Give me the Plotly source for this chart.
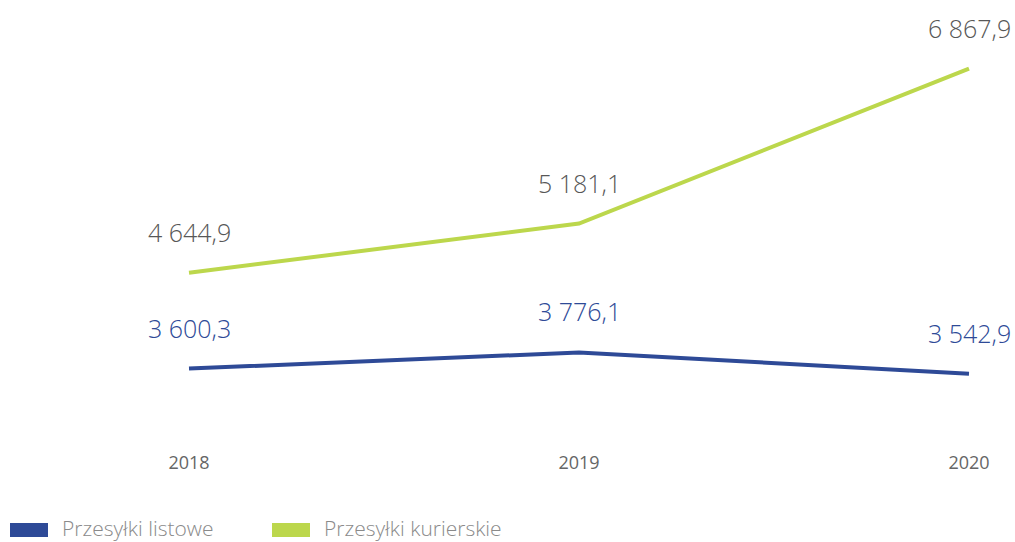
import plotly.graph_objects as go

years = [2018, 2019, 2020]
listowe = [3600.3, 3776.1, 3542.9]
kurierskie = [4644.9, 5181.1, 6867.9]
series_names = ["Przesyłki listowe", "Przesyłki kurierskie"]
colors = ["#2E4A97", "#BCD74C"]
label_colors = ["#2E4A97", "#575757"]

def fmt(v):
    s = f"{v:,.1f}"
    return s.replace(",", " ").replace(".", ",")

W, H = 1015, 542
top, bottom = 20, 430
px_per = 0.09177
zero_px = 699
y_lo = (zero_px - bottom) / px_per
y_hi = (zero_px - top) / px_per
x0 = 2018 - 189 / 390
x1 = x0 + W / 390

fig = go.Figure()
for name, vals, col in zip(series_names, [listowe, kurierskie], colors):
    fig.add_trace(go.Scatter(x=years, y=vals, mode="lines", name=name,
                             line=dict(color=col, width=4), showlegend=False,
                             hoverinfo="skip"))

for vals, lc in zip([listowe, kurierskie], label_colors):
    for x, v in zip(years, vals):
        fig.add_annotation(x=x, y=v, text=fmt(v), showarrow=False, yshift=41,
                           font=dict(size=25, color=lc, family="Open Sans", weight=300))

fig.update_layout(
    width=W, height=H,
    margin=dict(l=0, r=0, t=top, b=H - bottom),
    plot_bgcolor="white", paper_bgcolor="white",
    xaxis=dict(range=[x0, x1], tickvals=years, ticktext=[str(y) for y in years],
               showgrid=False, zeroline=False, showline=False, ticks="",
               tickfont=dict(size=18, color="#666666", family="Open Sans", weight=400),
               ticklabelstandoff=20),
    yaxis=dict(range=[y_lo, y_hi], visible=False),
    showlegend=False,
)

# legend drawn manually (paper coords map to plot area)
ph = bottom - top
def py(p):
    return (bottom - p) / ph
def pxx(p):
    return p / W
leg_x = [10, 272]
leg_shapes = []
for i, (name, col) in enumerate(zip(series_names, colors)):
    leg_shapes.append(dict(type="rect", xref="paper", yref="paper",
                           x0=pxx(leg_x[i]), x1=pxx(leg_x[i] + 38),
                           y0=py(537), y1=py(523), line=dict(width=0), fillcolor=col))
    fig.add_annotation(xref="paper", yref="paper", x=pxx(leg_x[i] + 50), y=py(528),
                       xanchor="left", yanchor="middle", text=name, showarrow=False,
                       font=dict(size=21, color="#8A8A8A", family="Open Sans", weight=300))
fig.update_layout(shapes=leg_shapes)

fig.write_html("out.html", post_script="document.body.style.margin='0';",
               config={"displayModeBar": False})
